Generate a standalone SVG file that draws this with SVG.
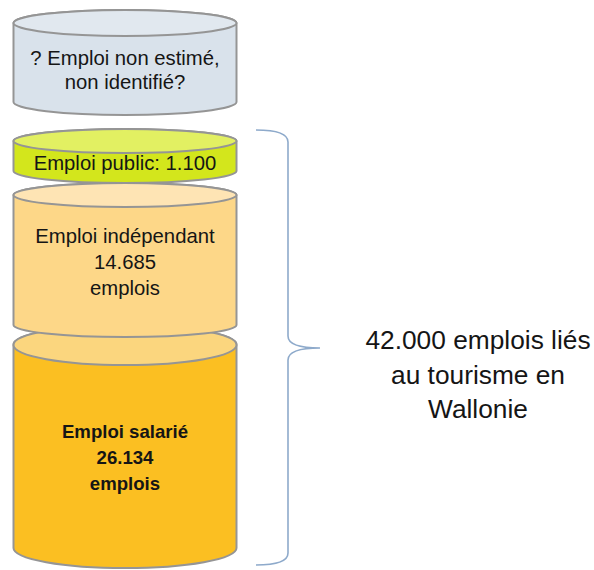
<svg xmlns="http://www.w3.org/2000/svg" width="594" height="570" viewBox="0 0 594 570">
<style>
.cyl{stroke:#959595;stroke-width:2}
.t{font-family:"Liberation Sans",Arial,sans-serif;font-size:20.3px;fill:#151515;text-anchor:middle}
.b{font-weight:bold;font-size:18.6px}
.big{font-family:"Liberation Sans",Arial,sans-serif;font-size:26.3px;fill:#151515;text-anchor:middle}
</style>
<rect width="594" height="570" fill="#ffffff"/>
<g id="salarie">
<path class="cyl" fill="#fbbf22" d="M13.5,345 L13.5,548 A111.5,20 0 0 0 236.5,548 L236.5,345 A111.5,20 0 0 0 13.5,345 Z"/>
<ellipse class="cyl" cx="125" cy="345" rx="111.5" ry="20" fill="#fbd67e"/>
<text class="t b" x="125" y="438">Emploi salarié</text>
<text class="t b" x="125" y="464">26.134</text>
<text class="t b" x="125" y="490">emplois</text>
</g>
<g id="independant">
<path class="cyl" fill="#fdd788" d="M13.5,195 L13.5,325 A111.5,12 0 0 0 236.5,325 L236.5,195 A111.5,12 0 0 0 13.5,195 Z"/>
<ellipse class="cyl" cx="125" cy="195" rx="111.5" ry="12" fill="#fee4b4"/>
<text class="t" x="125" y="243">Emploi indépendant</text>
<text class="t" x="125" y="269">14.685</text>
<text class="t" x="125" y="295">emplois</text>
</g>
<g id="public">
<path class="cyl" fill="#d3e61c" d="M13.5,141 L13.5,171 A111.5,12 0 0 0 236.5,171 L236.5,141 A111.5,12 0 0 0 13.5,141 Z"/>
<ellipse class="cyl" cx="125" cy="141" rx="111.5" ry="12" fill="#e2f062"/>
<text class="t" x="125" y="170">Emploi public: 1.100</text>
</g>
<g id="non-estime">
<path class="cyl" fill="#d9e2eb" d="M13.5,23 L13.5,102 A111.5,13 0 0 0 236.5,102 L236.5,23 A111.5,13 0 0 0 13.5,23 Z"/>
<ellipse class="cyl" cx="125" cy="23" rx="111.5" ry="13" fill="#e1e8ef"/>
<text class="t" x="125" y="65">? Emploi non estimé,</text>
<text class="t" x="125" y="89">non identifié?</text>
</g>
<g id="connectors">
<path d="M256,130 Q288,130 288,142 L288,336 Q288,348 320,348 Q288,348 288,360 L288,553 Q288,565 256,565" fill="none" stroke="#8eaacb" stroke-width="1.6"/>
</g>
<g id="total">
<text class="big" x="478" y="349">42.000 emplois liés</text>
<text class="big" x="478" y="384">au tourisme en</text>
<text class="big" x="478" y="418">Wallonie</text>
</g>
</svg>
